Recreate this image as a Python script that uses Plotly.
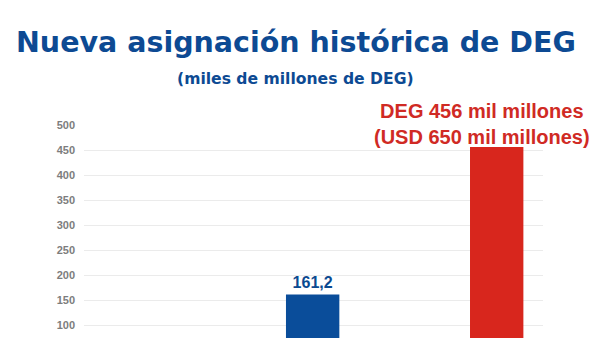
import plotly.graph_objects as go

# ---- data ----
categories = ["2009", "2021"]
deg_values = [161.2, 456]
usd_value_2021 = 650
bar_colors = ["#0a4d9a", "#d8261d"]
title_text = "Nueva asignación histórica de DEG"
subtitle_text = "(miles de millones de DEG)"
y_ticks = [100, 150, 200, 250, 300, 350, 400, 450, 500]

blue_label = [f"{deg_values[0]:.1f}".replace(".", ","), ""]
red_note = (f"DEG {deg_values[1]:.0f} mil millones<br>"
            f"(USD {usd_value_2021} mil millones)")

fig = go.Figure()
fig.add_trace(go.Bar(
    x=categories,
    y=deg_values,
    marker=dict(color=bar_colors, line=dict(width=0)),
    width=0.29,
    text=blue_label,
    textposition="outside",
    outsidetextfont=dict(family="Liberation Sans, Arial, sans-serif", size=16,
                         color="#0b4a91", weight="bold"),
    cliponaxis=False,
    showlegend=False,
    hoverinfo="skip",
))

fig.add_annotation(
    x=categories.index("2021"), y=deg_values[1], xref="x", yref="y",
    text=red_note, showarrow=False, xanchor="center", yanchor="bottom",
    xshift=-15, yshift=-3,
    font=dict(family="Liberation Sans, Arial, sans-serif", size=20,
              color="#d02a24", weight="bold"),
)
fig.add_annotation(
    x=(296 - 84) / 459, y=(338 - 42.1) / 214, xref="paper", yref="paper",
    text=title_text, showarrow=False, xanchor="center", yanchor="middle",
    font=dict(family="DejaVu Sans, sans-serif", size=28.5,
              color="#0d4a93", weight="bold"),
)
fig.add_annotation(
    x=(295 - 84) / 459, y=(338 - 78.6) / 214, xref="paper", yref="paper",
    text=subtitle_text, showarrow=False, xanchor="center", yanchor="middle",
    font=dict(family="DejaVu Sans, sans-serif", size=15.6,
              color="#0d4a93", weight="bold"),
)

fig.update_layout(
    width=600, height=338,
    margin=dict(l=84, r=57, t=124, b=0, pad=0),
    paper_bgcolor="white", plot_bgcolor="white",
    xaxis=dict(type="category", categoryorder="array", categoryarray=categories,
               range=[-1.2424, 1.2516], showticklabels=False, showgrid=False,
               zeroline=False, showline=False, ticks=""),
    yaxis=dict(range=[74, 502], tickvals=y_ticks, showgrid=True,
               gridcolor="#ebebeb", gridwidth=1, zeroline=False, showline=False,
               ticks="", ticklabelstandoff=8,
               tickfont=dict(family="Liberation Sans, Arial, sans-serif", size=11,
                             color="#7d7d7d", weight="bold")),
)

fig.write_html("out.html")
